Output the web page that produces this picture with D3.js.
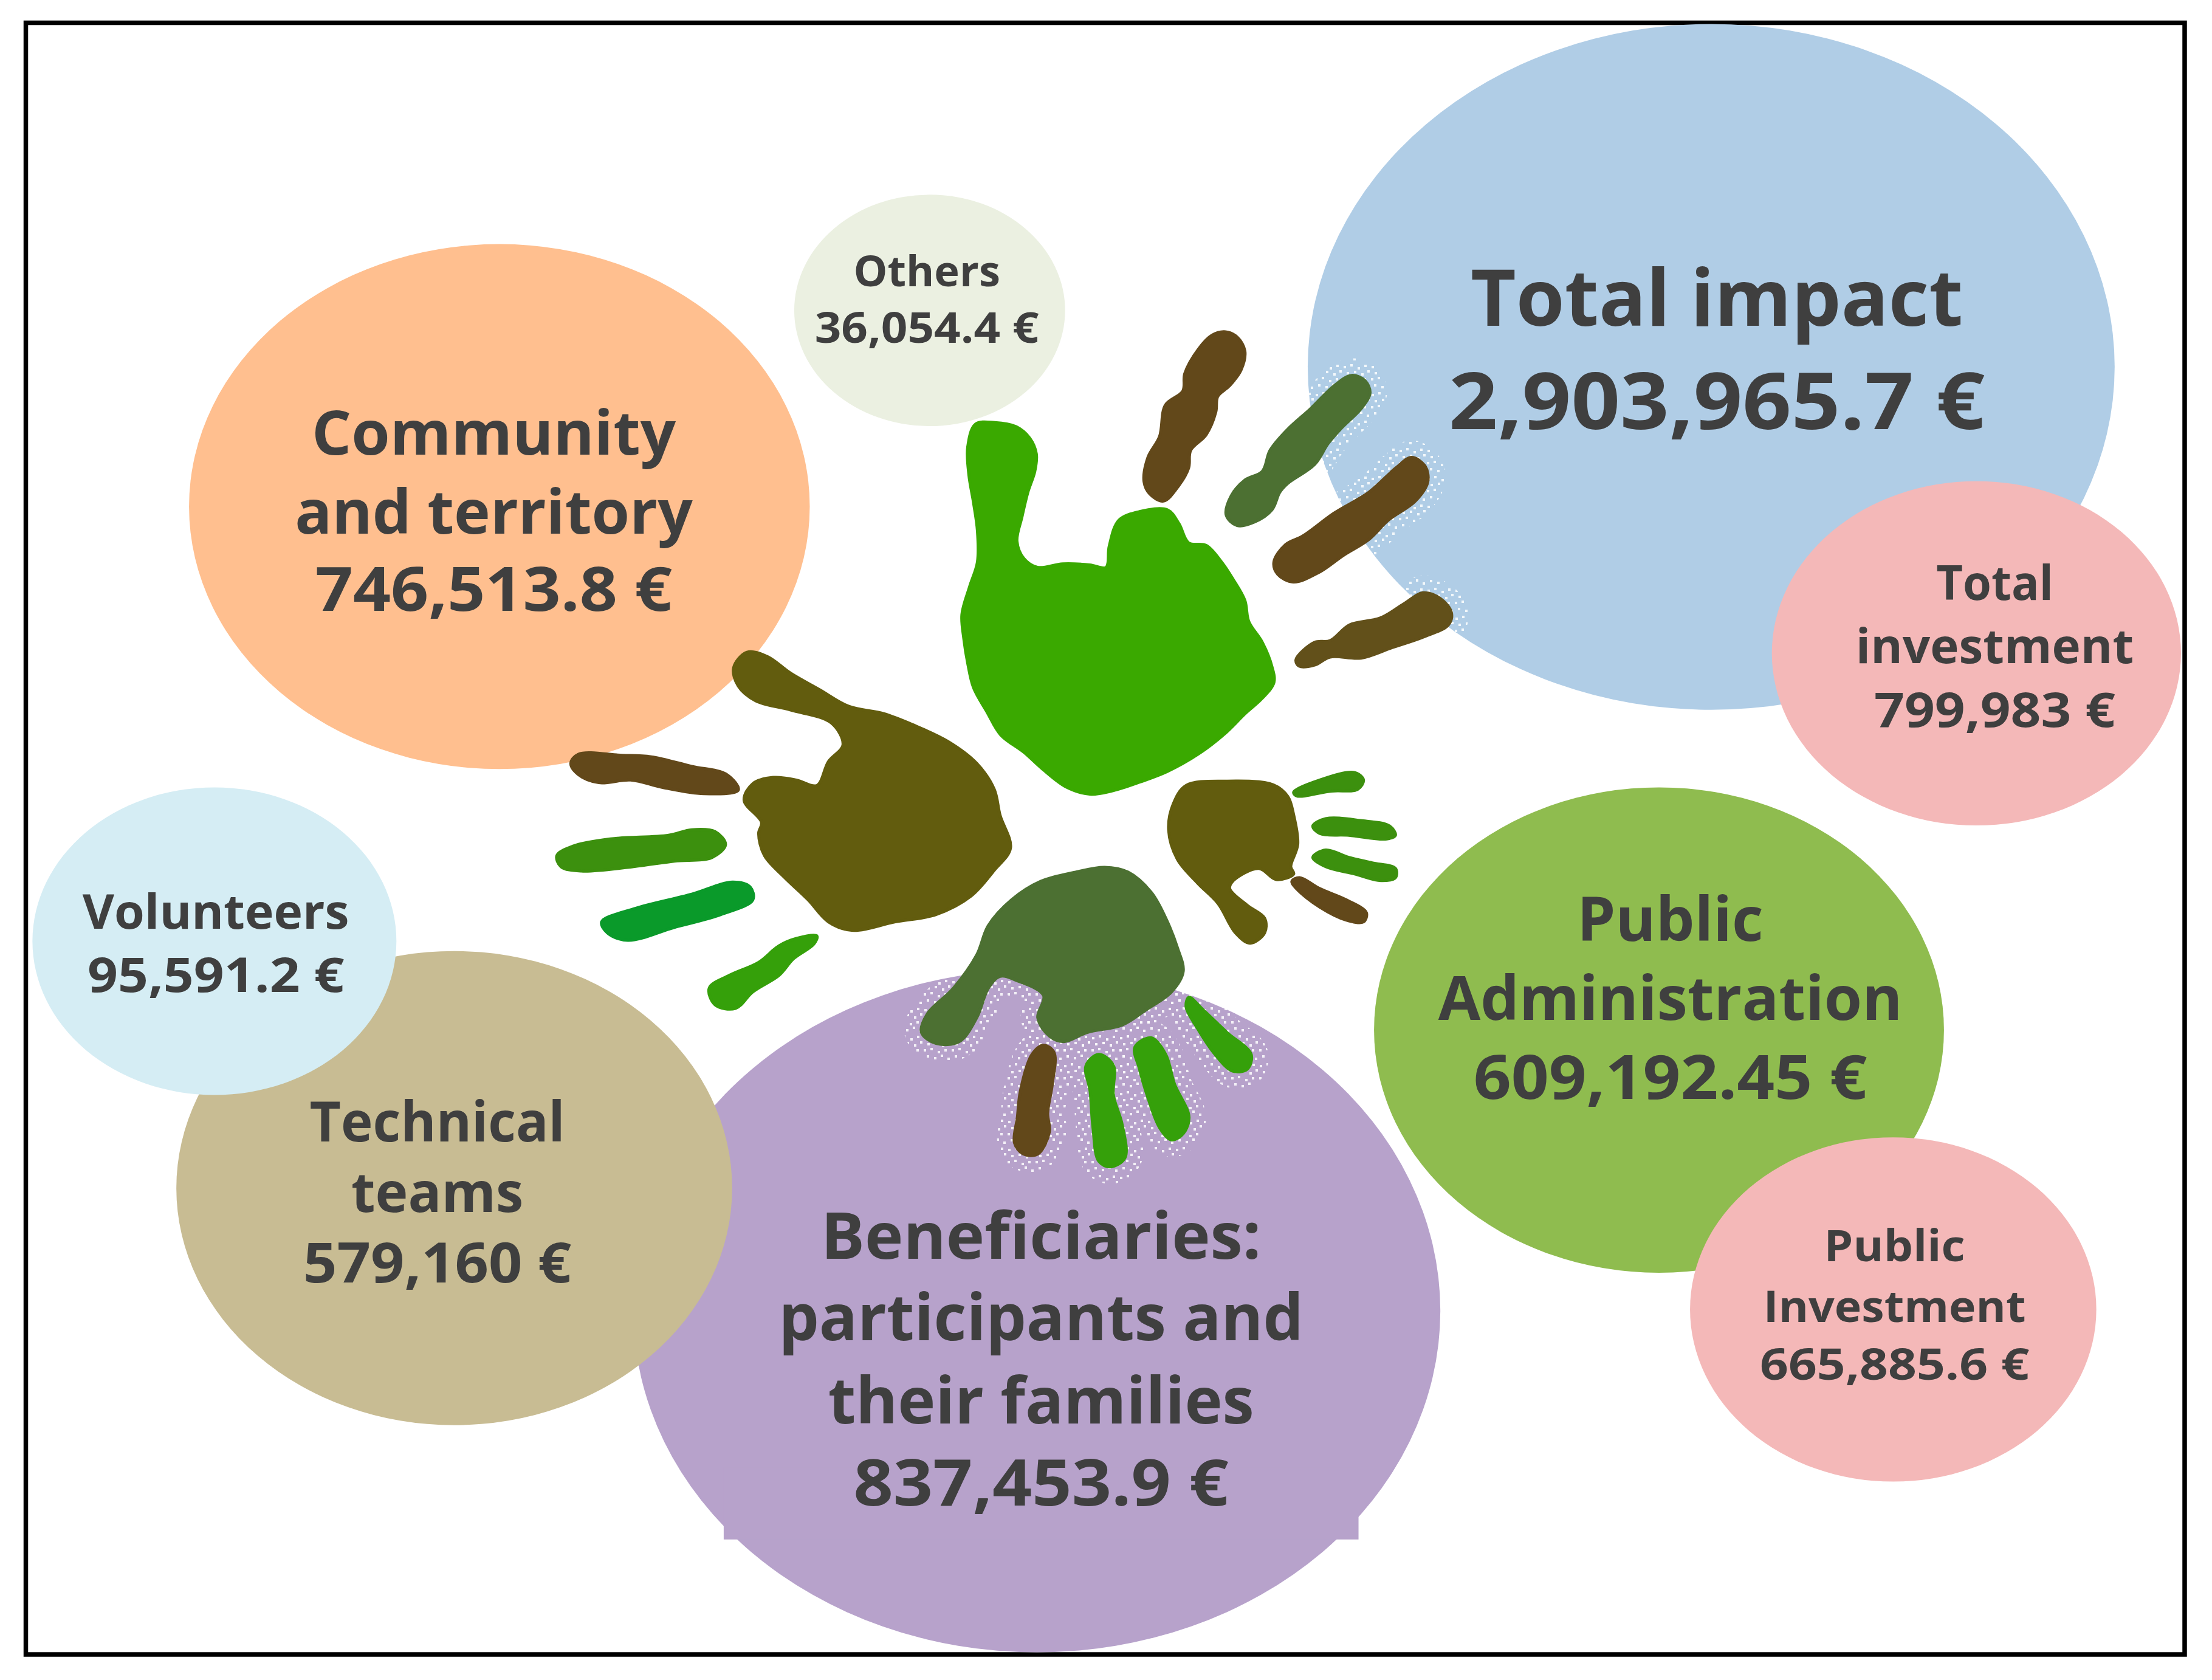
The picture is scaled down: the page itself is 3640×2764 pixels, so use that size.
<!doctype html>
<html lang="en">
<head>
<meta charset="utf-8">
<title>Social return by stakeholder</title>
<script src="https://d3js.org/d3.v7.min.js"></script>
<style>
  html, body { margin: 0; background: #fff; }
  svg { display: block; }
  text { font-family: "Open Sans", sans-serif; font-weight: 700; fill: #3f3f3f; text-anchor: middle; }
</style>
</head>
<body>
<svg id="chart" width="3640" height="2764"></svg>
<script>
// the chart's values
var names = ["Others", "Total impact", "Total investment", "Community and territory", "Public Administration",
             "Public Investment", "Beneficiaries", "Technical teams", "Volunteers"];
var amounts = [36054.4, 2903965.7, 799983, 746513.8, 609192.45, 665885.6, 837453.9, 579160, 95591.2];
var nameLines = [
  ["Others"],
  ["Total impact"],
  ["Total", "investment"],
  ["Community", "and territory"],
  ["Public", "Administration"],
  ["Public", "Investment"],
  ["Beneficiaries:", "participants and", "their families"],
  ["Technical", "teams"],
  ["Volunteers"]
];

// layout, in the coordinates of the picture at 1568 wide
var bubbleCx = [659, 1213, 1401, 354, 1176, 1342, 735, 322, 152];
var bubbleCy = [220, 260, 463, 359, 730, 928, 929, 842, 667];
var bubbleRx = [96, 286, 145, 220, 202, 144, 286, 197, 129];
var bubbleRy = [82, 243, 122, 186, 172, 122, 242, 168, 109];
var bubbleColor = ["#ebf0e1", "#b0cde6", "#f4b8b8", "#ffbf8f", "#8fbc4f", "#f4b8b8", "#b7a2cb", "#c8bc93", "#d5edf4"];
var textX = [657, 1217, 1414, 350, 1184, 1343, 738, 310, 153];
var textY = [[203, 243], [231, 304], [425, 470, 515], [322, 378, 433], [667, 723, 779], [894, 937, 978],
             [892, 950, 1009, 1067], [809, 859, 909], [658, 703]];
var textW = [[104, 159], [349, 380], [83, 197, 171], [258, 282, 253], [132, 329, 279], [100, 186, 191],
             [312, 372, 302, 266], [181, 122, 190], [189, 182]];
var textSize = [70, 130, 78, 100, 100, 72, 105, 92, 78];
var drawOrder = [1, 2, 6, 7, 8, 3, 4, 5, 0];

var sx = d3.scaleLinear().domain([0, 1568]).range([0, 3640]);
var sy = d3.scaleLinear().domain([0, 1190.6]).range([0, 2764]);

var cropA = { ox: 1500, oy: 500, kx: 1.568, ky: 1.742 };
var cropB = { ox: 880, oy: 1050, kx: 1.045, ky: 1.65 };
var olive = "#625c0e", brown = "#62481a", moss = "#4c7032", leaf = "#3aa900", grass = "#3c900e", emerald = "#0a9a2a", lime = "#35a00a";

var shapes = [
  { crop: cropA, fill: leaf, pts: [[165,345],[215,340],[270,352],[305,385],[322,430],[318,480],[300,540],[285,610],[272,680],[290,730],[325,755],[390,745],[460,748],[502,755],[510,695],[535,620],[590,595],[660,590],[690,630],[715,685],[760,692],[800,740],[830,790],[860,850],[870,910],[905,970],[930,1040],[935,1085],[905,1130],[860,1175],[810,1230],[740,1290],[660,1340],[590,1370],[520,1395],[460,1405],[400,1385],[340,1335],[290,1285],[230,1235],[195,1170],[160,1100],[145,1030],[135,960],[130,890],[150,810],[170,740],[170,650],[160,570],[148,490],[145,410]] },
  { crop: cropA, fill: brown, pts: [[810,80],[840,95],[860,135],[850,190],[820,235],[790,265],[785,310],[760,375],[720,420],[715,470],[690,520],[650,565],[615,545],[600,510],[610,440],[640,380],[655,290],[700,250],[705,200],[740,130],[775,90]] },
  { crop: cropA, fill: moss, halo: 1, pts: [[1135,205],[1170,220],[1183,255],[1160,300],[1110,355],[1075,400],[1040,460],[970,515],[950,540],[930,590],[885,625],[840,635],[812,605],[825,550],[860,505],[905,480],[925,420],[970,360],[1030,300],[1090,235]] },
  { crop: cropA, fill: brown, halo: 1, pts: [[1290,440],[1325,465],[1332,510],[1300,565],[1230,620],[1180,675],[1115,720],[1050,770],[985,797],[945,775],[935,740],[965,690],[1010,665],[1090,600],[1180,540],[1250,470]] },
  { crop: cropA, fill: "#62501a", halo: 1, pts: [[1320,828],[1365,845],[1393,885],[1385,920],[1320,955],[1240,985],[1160,1015],[1080,1012],[1040,1035],[1000,1038],[992,1020],[1040,970],[1080,965],[1130,920],[1210,900],[1270,860]] },

  { crop: cropB, fill: olive, pts: [[365,38],[400,50],[440,95],[490,140],[540,185],[600,205],[650,235],[710,280],[760,340],[790,410],[800,480],[818,570],[790,630],[750,700],[690,750],[620,770],[545,793],[505,770],[470,710],[430,650],[395,590],[385,530],[390,500],[360,440],[375,395],[410,378],[450,385],[485,400],[505,335],[530,290],[510,230],[440,195],[380,170],[350,130],[342,80]] },
  { crop: cropB, fill: brown, pts: [[75,315],[150,318],[200,322],[270,348],[330,370],[350,412],[290,422],[220,405],[165,385],[110,392],[75,370],[62,340]] },
  { crop: cropB, fill: grass, pts: [[270,520],[310,525],[328,560],[305,595],[240,605],[170,620],[80,632],[45,620],[38,590],[65,565],[130,545],[230,535]] },
  { crop: cropB, fill: emerald, pts: [[340,662],[370,675],[375,710],[320,750],[240,785],[160,820],[125,800],[115,770],[170,735],[270,695]] },
  { crop: cropB, fill: lime, pts: [[485,808],[480,830],[445,870],[420,915],[375,960],[345,1005],[310,995],[300,950],[335,915],[385,880],[420,835],[450,815]] },

  { crop: cropB, fill: olive, pts: [[1120,400],[1190,388],[1270,398],[1295,430],[1305,480],[1312,560],[1300,620],[1305,640],[1275,655],[1245,625],[1200,660],[1195,680],[1225,725],[1255,760],[1255,800],[1230,828],[1205,800],[1175,720],[1140,665],[1105,600],[1090,520],[1098,450]] },
  { crop: cropB, fill: grass, pts: [[1410,365],[1425,385],[1415,410],[1370,415],[1310,428],[1305,418],[1350,385]] },
  { crop: cropB, fill: grass, pts: [[1360,490],[1420,495],[1470,510],[1480,535],[1465,545],[1400,535],[1350,530],[1338,510]] },
  { crop: cropB, fill: grass, pts: [[1360,575],[1400,595],[1440,610],[1480,625],[1480,650],[1455,658],[1410,640],[1360,620],[1338,595]] },
  { crop: cropB, fill: brown, pts: [[1315,650],[1350,680],[1395,710],[1430,745],[1425,770],[1395,765],[1350,730],[1310,680],[1302,660]] },

  { crop: cropB, fill: moss, halo: 1, pts: [[980,622],[1020,635],[1060,690],[1085,760],[1105,840],[1115,905],[1095,960],[1050,1010],[1010,1050],[950,1070],[910,1095],[885,1080],[865,1030],[875,970],[830,930],[800,918],[780,950],[760,1030],[730,1095],[690,1100],[665,1070],[675,1020],[720,950],[760,860],[780,780],[820,710],[870,660],[930,635]] },
  { crop: cropB, fill: brown, halo: 1, pts: [[875,1105],[893,1125],[890,1210],[882,1290],[885,1340],[865,1400],[840,1400],[825,1370],[830,1300],[835,1230],[855,1130]] },
  { crop: cropB, fill: lime, halo: 1, pts: [[970,1130],[995,1160],[995,1240],[1010,1320],[1015,1410],[990,1435],[970,1420],[960,1330],[955,1230],[948,1160]] },
  { crop: cropB, fill: lime, halo: 1, pts: [[1060,1085],[1085,1130],[1100,1210],[1125,1300],[1115,1345],[1095,1362],[1075,1330],[1055,1250],[1040,1170],[1032,1110]] },
  { crop: cropB, fill: lime, halo: 1, pts: [[1125,975],[1150,1010],[1190,1070],[1232,1130],[1225,1170],[1200,1175],[1170,1130],[1140,1060],[1120,1000]] }
];

// one tile of the white speckle
var specks = [[3,4],[14,1],[26,6],[37,2],[8,14],[20,12],[32,16],[42,11],[2,24],[13,22],[25,27],[36,24],[7,34],[19,37],[30,33],[41,38]];

var svg = d3.select("#chart");
var fmt = d3.format(",");

var tile = svg.append("defs").append("pattern").attr("id", "speckle")
  .attr("patternUnits", "userSpaceOnUse").attr("width", 46).attr("height", 46);
tile.selectAll("rect").data(specks).enter().append("rect")
  .attr("x", function(d) { return d[0]; }).attr("y", function(d) { return d[1]; })
  .attr("width", 4).attr("height", 4).attr("fill", "#fff").attr("fill-opacity", 0.85);

// frame
svg.append("rect").attr("x", 42.5).attr("y", 37.5).attr("width", 3595 - 42.5).attr("height", 2722 - 37.5)
  .attr("fill", "#fff").attr("stroke", "#000").attr("stroke-width", 7.5);

// bubbles, back to front
svg.selectAll("g.bubble").data(drawOrder).enter().append("g").attr("class", "bubble")
  .each(function(i) {
    var g = d3.select(this);
    g.append("ellipse")
      .attr("cx", sx(bubbleCx[i])).attr("cy", sy(bubbleCy[i]))
      .attr("rx", sx(bubbleRx[i])).attr("ry", sy(bubbleRy[i]))
      .attr("fill", bubbleColor[i]);
    // the text box of this one pokes out of the ellipse at the bottom
    if (names[i] == "Beneficiaries") {
      g.append("rect").attr("x", sx(513)).attr("y", sy(1040))
        .attr("width", sx(450)).attr("height", sy(51)).attr("fill", bubbleColor[i]);
    }
  });

// hands
var outline = d3.line()
  .x(function(p) { return p[0]; })
  .y(function(p) { return p[1]; })
  .curve(d3.curveCatmullRomClosed.alpha(0.5));

function shapePath(d) {
  return outline(d.pts.map(function(p) {
    return [d.crop.ox + p[0] / d.crop.kx, d.crop.oy + p[1] / d.crop.ky];
  }));
}

svg.selectAll("path.halo").data(shapes.filter(function(d) { return d.halo; })).enter().append("path")
  .attr("class", "halo").attr("d", shapePath).attr("fill", "none")
  .attr("stroke", "url(#speckle)").attr("stroke-width", 56);

svg.selectAll("path.hand").data(shapes).enter().append("path")
  .attr("class", "hand").attr("d", shapePath)
  .attr("fill", function(d) { return d.fill; })
  .attr("stroke", function(d) { return d.fill; })
  .attr("stroke-width", 5).attr("stroke-linejoin", "round");

// labels
drawOrder.forEach(function(i) {
  var lines = nameLines[i].concat(fmt(amounts[i]) + " €");
  svg.selectAll(null).data(lines).enter().append("text")
    .attr("x", sx(textX[i]))
    .attr("y", function(d, j) { return sy(textY[i][j]); })
    .attr("font-size", textSize[i])
    .attr("textLength", function(d, j) { return sx(textW[i][j]); })
    .attr("lengthAdjust", "spacingAndGlyphs")
    .text(function(d) { return d; });
});
</script>
</body>
</html>
